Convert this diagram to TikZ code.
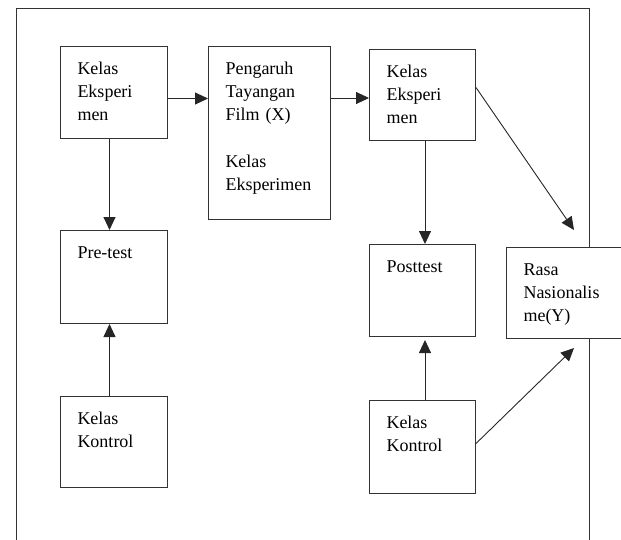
\documentclass[tikz,border=0pt]{standalone}
\usepackage{fontspec}
\setmainfont{Liberation Serif}
\usetikzlibrary{positioning,arrows.meta}

\begin{document}
\begin{tikzpicture}[x=1pt,y=-1pt,
		cell/.style={
			draw=black!80,
			fill=white,
			line width=1pt,
			anchor=north west,
			align=left,
			inner xsep=17pt,
			inner ysep=15pt,
			text height=12.5pt,
			font=\fontsize{18}{23.3}\selectfont
		},
		link/.style={->,line width=0.9pt,draw=black!85},
		>={Triangle[length=13pt,width=12pt]}
		]
		\useasboundingbox (0,0) rectangle (621,539);
		\clip (0,0) rectangle (621,539);
		%Outer frame
		\draw[line width=1pt,black!80] (16,550) -- (16,8.5) -- (589,8.5) -- (589,550);
		%Top row
		\node[cell,text width=73pt,text depth=49.5pt] (eks1) at (60,46) {Kelas\\Eksperi\\men};
		\node[cell,text width=88pt,text depth=130.5pt] (film) at (208,46) {Pengaruh\\Tayangan\\Film (X)\\[23.3pt]Kelas\\Eksperimen};
		\node[cell,text width=72pt,text depth=48.5pt] (eks2) at (369,49) {Kelas\\Eksperi\\men};
		%Tests
		\node[cell,text width=73pt,text depth=50.5pt] (pre) at (60,230) {Pre-test};
		\node[cell,text width=72pt,text depth=49.5pt] (post) at (369,244) {Posttest};
		\node[cell,text width=91pt,text depth=48.5pt] (rasa) at (506,247) {Rasa\\Nasionalis\\me(Y)};
		%Control groups
		\node[cell,text width=73pt,text depth=48.5pt] (kon1) at (60,396) {Kelas\\Kontrol};
		\node[cell,text width=72pt,text depth=50.5pt] (kon2) at (369,400) {Kelas\\Kontrol};
		%Arrow ends
		\coordinate (a1) at ([yshift=-6pt]eks1.east);
		\coordinate (a2) at ([yshift=-3pt]eks2.west);
		\coordinate (a3) at ([yshift=7.5pt]eks2.east);
		\coordinate (a4) at ([yshift=3.5pt]kon2.east);
		\coordinate (r1) at ([xshift=68pt,yshift=17pt]rasa.north west);
		\coordinate (r2) at ([xshift=68pt,yshift=-9pt]rasa.south west);
		%Arrows
		\draw[link] (a1) -- (a1 -| film.west);
		\draw[link] (film.east |- a2) -- (a2);
		\draw[link] ([xshift=-4.5pt]eks1.south) -- ([xshift=-4.5pt]pre.north);
		\draw[link] ([xshift=-4.5pt]kon1.north) -- ([xshift=-4.5pt]pre.south);
		\draw[link] ([xshift=2.5pt]eks2.south) -- ([xshift=2.5pt]post.north);
		\draw[link] ([xshift=2.5pt]kon2.north) -- ([xshift=2.5pt,yshift=-3pt]post.south);
		\draw[link] (a3) -- (r1);
		\draw[link] (a4) -- (r2);
\end{tikzpicture}
\end{document}
